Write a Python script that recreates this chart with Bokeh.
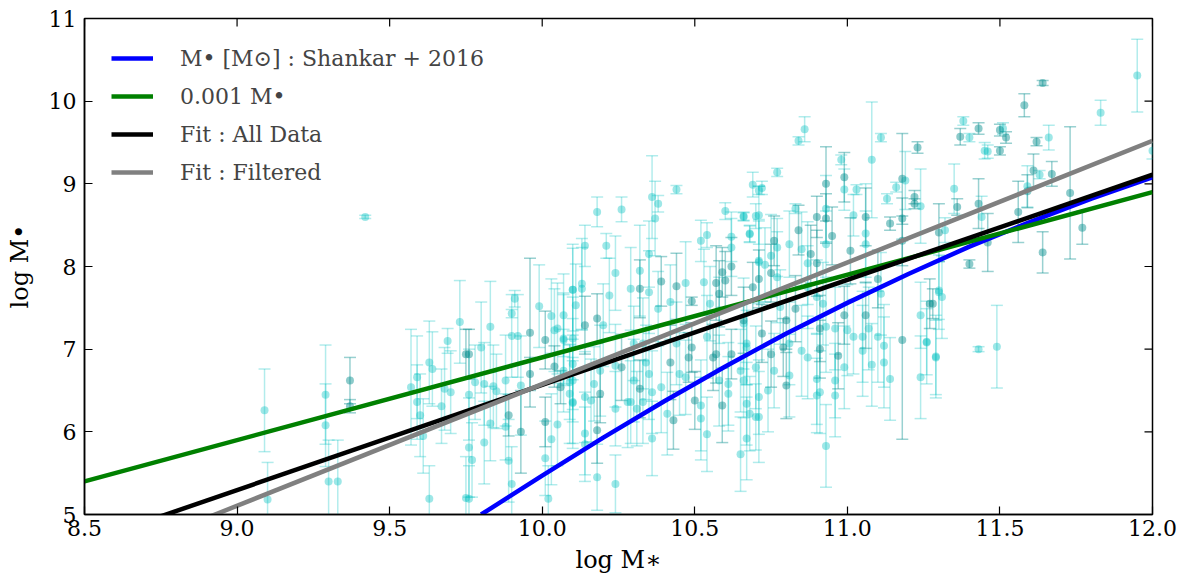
from bokeh.plotting import figure
from bokeh.models import (ColumnDataSource, Whisker, TeeHead, Legend, LegendItem,
                          Range1d, FixedTicker, CustomJSTickFormatter)
from bokeh.embed import file_html
from bokeh.resources import INLINE

# ---------------- data ----------------
x_ticks = [8.5, 9.0, 9.5, 10.0, 10.5, 11.0, 11.5, 12.0]
x_tick_labels = ["8.5", "9.0", "9.5", "10.0", "10.5", "11.0", "11.5", "12.0"]
y_ticks = [5, 6, 7, 8, 9, 10, 11]
y_tick_labels = ["5", "6", "7", "8", "9", "10", "11"]

# light-cyan measurements: log M*, log M_BH, error
light_pts = [
    (9.09, 6.26, 0.50), (9.10, 5.18, 0.45), (9.29, 6.45, 0.60), (9.29, 6.08, 0.50),
    (9.30, 5.40, 0.50), (9.33, 5.40, 0.50), (9.42, 8.60, 0.02),
    (9.57, 6.54, 0.70), (9.59, 6.66, 0.50), (9.59, 6.36, 0.45), (9.60, 6.20, 0.50),
    (9.61, 5.95, 0.45), (9.63, 6.84, 0.50), (9.64, 6.76, 0.45), (9.63, 5.19, 0.40),
    (9.67, 6.31, 0.45), (9.68, 6.52, 0.50), (9.69, 7.10, 0.15), (9.70, 6.48, 0.50),
    (9.73, 7.33, 0.50), (9.76, 6.45, 0.55), (9.76, 5.81, 0.60), (9.77, 5.66, 0.45),
    (9.76, 5.19, 0.40), (9.78, 6.60, 0.45), (9.80, 7.02, 0.55), (9.81, 6.58, 0.50),
    (9.81, 5.87, 0.50), (9.83, 6.10, 0.45), (9.83, 7.27, 0.55), (9.84, 6.55, 0.50),
    (9.85, 6.49, 0.45), (9.88, 6.62, 0.55), (9.88, 6.06, 0.40), (9.89, 5.65, 0.50),
    (9.90, 5.37, 0.45), (9.90, 7.16, 0.50), (9.91, 7.61, 0.10), (9.90, 7.43, 0.05),
    (9.92, 7.16, 0.50), (9.93, 6.56, 0.60), (9.99, 7.52, 0.50), (10.01, 5.68, 0.45),
    (10.02, 5.19, 0.40), (10.03, 5.91, 0.55), (10.03, 7.40, 0.45), (10.04, 7.23, 0.50),
    (10.05, 7.25, 0.55), (10.05, 6.09, 0.50), (10.07, 7.41, 0.50), (10.07, 7.11, 0.55),
    (10.10, 7.72, 0.55), (10.11, 7.53, 0.50), (10.09, 6.46, 0.60), (10.10, 6.35, 0.55),
    (10.10, 6.62, 0.50), (9.75, 5.20, 0.50),
    (10.18, 8.66, 0.18), (10.26, 8.69, 0.15), (10.44, 8.93, 0.05), (10.36, 8.84, 0.50),
    (10.37, 8.58, 0.45), (10.38, 8.76, 0.10), (10.35, 8.15, 0.40), (10.14, 8.25, 0.25),
    (10.21, 8.25, 0.15), (10.13, 7.79, 0.55), (10.13, 7.73, 0.50), (10.10, 7.72, 0.50),
    (10.20, 7.29, 0.50), (10.22, 7.65, 0.45), (10.24, 7.92, 0.45), (10.29, 7.73, 0.50),
    (10.32, 7.95, 0.55), (10.35, 7.69, 0.50), (10.38, 7.49, 0.45), (10.47, 7.80, 0.50),
    (10.42, 7.57, 0.45), (10.54, 8.38, 0.15), (10.52, 8.31, 0.25), (10.60, 8.67, 0.10),
    (10.66, 8.61, 0.05), (10.68, 8.39, 0.10), (10.69, 8.99, 0.15), (10.71, 8.62, 0.35),
    (10.62, 8.36, 0.30), (10.62, 8.23, 0.35), (10.53, 7.81, 0.40), (10.55, 7.55, 0.45),
    (10.58, 7.47, 0.40), (10.71, 8.07, 0.50), (10.07, 7.13, 0.55), (10.10, 7.13, 0.50),
    (10.10, 6.82, 0.55), (10.07, 6.74, 0.50), (10.09, 6.60, 0.45), (10.10, 6.36, 0.50),
    (10.14, 6.42, 0.55), (10.16, 6.38, 0.50), (10.17, 6.58, 0.45), (10.19, 6.74, 0.55),
    (10.14, 5.98, 0.50), (10.14, 5.85, 0.45), (10.18, 5.45, 0.40), (10.24, 5.37, 0.35),
    (10.24, 6.80, 0.50), (10.24, 6.28, 0.45), (10.28, 6.36, 0.55), (10.29, 6.36, 0.50),
    (10.30, 6.62, 0.50), (10.30, 7.07, 0.45), (10.31, 6.28, 0.45), (10.33, 7.07, 0.55),
    (10.33, 6.36, 0.50), (10.34, 6.84, 0.45), (10.35, 6.70, 0.55), (10.36, 6.48, 0.50),
    (10.36, 5.92, 0.45), (10.39, 6.54, 0.55), (10.41, 6.22, 0.50), (10.44, 7.07, 0.50),
    (10.45, 6.70, 0.50), (10.47, 6.66, 0.45), (10.52, 6.32, 0.55), (10.52, 6.16, 0.50),
    (10.54, 5.97, 0.45), (10.54, 7.15, 0.50), (10.58, 6.62, 0.55), (10.61, 6.58, 0.50),
    (10.61, 6.46, 0.45), (10.65, 6.74, 0.50), (10.66, 6.62, 0.45), (10.66, 7.31, 0.55),
    (10.67, 7.07, 0.50), (10.65, 5.73, 0.45), (10.67, 5.92, 0.50), (10.68, 6.22, 0.45),
    (10.70, 6.18, 0.40),
    (10.86, 9.66, 0.15), (10.84, 9.52, 0.05), (10.77, 9.14, 0.05), (10.72, 8.95, 0.08),
    (10.71, 8.92, 0.05), (10.66, 8.60, 0.05), (10.70, 8.61, 0.15), (10.68, 8.40, 0.10),
    (10.83, 8.70, 0.06), (10.98, 9.29, 0.06), (10.99, 8.93, 0.25), (11.03, 8.93, 0.06),
    (11.08, 9.29, 0.70), (11.11, 9.56, 0.05), (11.19, 9.04, 0.35), (11.16, 8.96, 0.06),
    (11.13, 8.82, 0.06), (11.24, 8.73, 0.45), (10.93, 8.70, 0.40), (11.02, 8.62, 0.25),
    (11.06, 8.40, 0.60), (10.93, 8.27, 0.40), (11.06, 8.27, 0.40), (10.77, 8.23, 0.35),
    (10.81, 8.27, 0.40), (10.85, 8.21, 0.45), (10.87, 8.04, 0.50), (10.75, 8.13, 0.50),
    (10.71, 8.05, 0.50), (10.73, 8.02, 0.45), (10.77, 7.87, 0.55), (10.87, 7.75, 0.50),
    (10.90, 7.63, 0.45), (10.92, 7.55, 0.50), (10.78, 7.51, 0.45), (10.67, 7.02, 0.45),
    (10.81, 7.07, 0.50), (10.85, 6.98, 0.55), (10.87, 6.90, 0.50), (10.93, 7.27, 0.55),
    (10.96, 7.25, 0.50), (11.00, 7.23, 0.55), (10.99, 6.78, 0.50), (11.02, 7.15, 0.45),
    (11.05, 7.15, 0.55), (11.07, 7.25, 0.50), (11.05, 6.98, 0.55), (11.08, 6.81, 0.50),
    (11.11, 7.67, 0.50), (11.10, 7.15, 0.55), (11.12, 7.04, 0.50), (11.12, 6.84, 0.55),
    (11.14, 6.64, 0.50), (10.70, 6.78, 0.50), (10.71, 6.42, 0.45), (10.71, 6.18, 0.55),
    (10.67, 6.34, 0.50), (10.74, 6.50, 0.50), (10.76, 6.74, 0.45), (10.81, 6.68, 0.50),
    (10.90, 6.64, 0.55), (10.91, 6.48, 0.50), (10.90, 6.44, 0.45), (10.96, 6.44, 0.50),
    (10.96, 6.62, 0.45), (10.93, 5.83, 0.50), (11.24, 7.41, 0.40), (11.24, 6.66, 0.50),
    (11.26, 7.09, 0.40), (11.29, 6.90, 0.45), (11.30, 7.71, 0.35),
    (11.95, 10.31, 0.44), (11.83, 9.86, 0.15), (11.38, 9.76, 0.05), (11.40, 9.56, 0.05),
    (11.51, 9.67, 0.07), (11.45, 9.40, 0.10), (11.46, 9.39, 0.08), (11.66, 9.56, 0.15),
    (11.35, 8.94, 0.30), (11.44, 8.60, 0.25), (11.32, 8.44, 0.15), (11.59, 8.97, 0.25),
    (11.63, 9.11, 0.05), (11.30, 7.69, 0.45), (11.31, 7.63, 0.50), (11.26, 7.08, 0.50),
    (11.29, 6.91, 0.50), (11.43, 7.00, 0.03), (11.49, 7.03, 0.50), (12.00, 9.40, 0.10),
]

# darker teal measurements
dark_pts = [
    (9.37, 6.62, 0.28), (9.37, 6.31, 0.08), (9.75, 6.94, 0.30), (9.76, 6.94, 0.30),
    (9.89, 6.20, 0.25), (9.93, 6.00, 0.50), (9.96, 7.20, 0.90), (9.96, 6.70, 0.20),
    (10.01, 7.11, 0.35), (10.01, 6.12, 0.30), (10.04, 6.79, 0.25), (10.06, 6.54, 0.20),
    (10.14, 7.29, 0.35), (10.18, 7.37, 0.30), (10.32, 7.73, 0.35), (10.39, 7.82, 0.30),
    (10.44, 7.76, 0.40), (10.49, 7.58, 0.05), (10.62, 8.00, 0.35), (10.59, 7.93, 0.30),
    (10.57, 7.80, 0.45), (10.58, 7.67, 0.40), (10.60, 7.83, 0.35), (10.69, 7.75, 0.30),
    (10.19, 6.46, 0.35), (10.18, 6.02, 0.40), (10.26, 6.78, 0.40), (10.32, 6.52, 0.35),
    (10.42, 6.84, 0.45), (10.43, 6.14, 0.35), (10.48, 6.90, 0.30), (10.49, 7.02, 0.30),
    (10.50, 6.38, 0.35), (10.56, 6.90, 0.40), (10.57, 6.94, 0.35), (10.59, 6.32, 0.45),
    (10.62, 6.94, 0.30), (10.99, 9.08, 0.30), (11.23, 9.44, 0.07), (11.18, 9.06, 0.55),
    (11.22, 8.84, 0.08), (11.22, 8.76, 0.06), (10.93, 9.00, 0.45), (10.93, 8.58, 0.30),
    (10.90, 8.60, 0.25), (10.84, 8.44, 0.30), (11.06, 8.60, 0.35), (11.14, 8.52, 0.08),
    (11.18, 8.58, 0.25), (11.18, 8.31, 0.30), (11.18, 7.11, 1.20), (10.95, 8.37, 0.35),
    (11.01, 8.19, 0.40), (10.76, 8.31, 0.30), (10.88, 8.15, 0.35), (10.90, 8.04, 0.40),
    (10.75, 7.92, 0.35), (10.71, 7.85, 0.35), (10.83, 7.49, 0.40), (10.80, 7.35, 0.35),
    (10.66, 7.35, 0.40), (10.72, 7.19, 0.35), (10.75, 6.94, 0.40), (10.79, 7.02, 0.35),
    (10.91, 7.25, 0.40), (10.91, 7.00, 0.35), (10.97, 6.92, 0.40), (10.99, 7.41, 0.35),
    (11.06, 7.41, 0.40), (11.10, 7.85, 0.35), (10.80, 6.56, 0.40), (11.27, 7.55, 0.30),
    (11.64, 10.22, 0.03), (11.58, 9.95, 0.14), (11.37, 9.57, 0.10), (11.43, 9.67, 0.07),
    (11.50, 9.65, 0.07), (11.52, 9.56, 0.07), (11.50, 9.40, 0.05), (11.62, 9.51, 0.05),
    (11.36, 8.72, 0.10), (11.43, 8.76, 0.30), (11.46, 8.29, 0.35), (11.40, 8.03, 0.05),
    (11.30, 8.41, 0.35), (11.56, 8.66, 0.37), (11.59, 8.91, 0.20), (11.61, 9.16, 0.20),
    (11.67, 9.12, 0.15), (11.73, 8.89, 0.80), (11.77, 8.47, 0.20), (11.64, 8.17, 0.25),
    (11.28, 7.55, 0.18),
]

# relations
shankar_x = [9.80, 10.00, 10.20, 10.40, 10.60, 10.80, 11.00, 11.20, 11.40, 11.60, 11.80, 12.00]
shankar_y = [5.00, 5.47, 5.93, 6.37, 6.79, 7.19, 7.56, 7.91, 8.24, 8.54, 8.82, 9.08]
ratio_x = [8.5, 12.0]
ratio_y = [5.40, 8.90]
fit_all_x = [8.5, 12.0]
fit_all_y = [4.66, 9.11]
fit_filt_x = [8.5, 12.0]
fit_filt_y = [4.37, 9.52]

legend_labels = ["M\u2022 [M\u2299] : Shankar + 2016", "0.001 M\u2022",
                 "Fit : All Data", "Fit : Filtered"]

FONT = "DejaVu Serif"


def make_source(pts):
    xs = [p[0] for p in pts]
    ys = [p[1] for p in pts]
    es = [p[2] for p in pts]
    return ColumnDataSource(dict(x=xs, y=ys,
                                 lo=[y - e for y, e in zip(ys, es)],
                                 hi=[y + e for y, e in zip(ys, es)]))


def label_formatter(tick_values, tick_texts):
    return CustomJSTickFormatter(args=dict(tvals=tick_values, ttexts=tick_texts), code="""
        for (let i = 0; i < tvals.length; i++) {
            if (Math.abs(tvals[i] - tick) < 1e-6) { return ttexts[i]; }
        }
        return String(tick);
    """)


p = figure(frame_width=1068, frame_height=496,
           x_range=Range1d(8.5, 12.0), y_range=Range1d(5, 11),
           output_backend="svg", toolbar_location=None,
           min_border_left=84, min_border_right=35, min_border_top=18, min_border_bottom=66)
p.grid.visible = False
p.outline_line_color = "black"
p.outline_line_width = 1.5
p.background_fill_color = "white"
p.border_fill_color = "white"

for pts, col, a_bar, a_pt in [(light_pts, "#00bfbf", 0.3, 0.38), (dark_pts, "#008b8b", 0.4, 0.45)]:
    src = make_source(pts)
    w = Whisker(source=src, base="x", upper="hi", lower="lo", dimension="height",
                line_color=col, line_alpha=a_bar, line_width=1.5,
                upper_head=TeeHead(size=12, line_color=col, line_alpha=a_bar, line_width=1.5),
                lower_head=TeeHead(size=12, line_color=col, line_alpha=a_bar, line_width=1.5))
    p.add_layout(w)
    p.scatter("x", "y", source=src, size=8, fill_color=col, fill_alpha=a_pt, line_color=None)

r_blue = p.line(shankar_x, shankar_y, line_color="#0000ff", line_width=4.5)
r_green = p.line(ratio_x, ratio_y, line_color="#008000", line_width=4.5)
r_black = p.line(fit_all_x, fit_all_y, line_color="black", line_width=4.5)
r_gray = p.line(fit_filt_x, fit_filt_y, line_color="#808080", line_width=4.5)

# inward ticks on the top and right spines (derived from the tick lists)
tick_dy = 8 / 82.67
tick_dx = 8 / 305.1
p.segment(x0=x_ticks, y0=[11] * len(x_ticks), x1=x_ticks, y1=[11 - tick_dy] * len(x_ticks),
          line_color="black", line_width=1.2)
p.segment(x0=[12.0] * len(y_ticks), y0=y_ticks, x1=[12.0 - tick_dx] * len(y_ticks), y1=y_ticks,
          line_color="black", line_width=1.2)

legend = Legend(items=[LegendItem(label=l, renderers=[r]) for l, r in
                       zip(legend_labels, [r_blue, r_green, r_black, r_gray])],
                location="top_left", margin=27, padding=3, spacing=12,
                glyph_width=42, glyph_height=26, label_standoff=27,
                label_text_font=FONT, label_text_font_size="22px",
                border_line_color=None, background_fill_alpha=0)
p.add_layout(legend)

# axes styling
p.xaxis.ticker = FixedTicker(ticks=x_ticks)
p.xaxis.formatter = label_formatter(x_ticks, x_tick_labels)
p.yaxis.ticker = FixedTicker(ticks=y_ticks)
p.yaxis.formatter = label_formatter(y_ticks, y_tick_labels)
for axs in (p.xaxis, p.yaxis):
    axs.major_tick_in = 8
    axs.major_tick_out = 0
    axs.minor_tick_line_color = None
    axs.axis_line_width = 1.5
    axs.major_tick_line_width = 1.2
    axs.major_label_text_font = FONT
    axs.major_label_text_font_size = "22px"
    axs.major_label_text_color = "black"
    axs.axis_label_text_font = FONT
    axs.axis_label_text_font_size = "24px"
    axs.axis_label_text_font_style = "normal"
    axs.axis_label_text_color = "black"
p.xaxis.axis_label = "log M\u2217"
p.yaxis.axis_label = "log M\u2022"
p.xaxis.major_label_standoff = 5
p.yaxis.major_label_standoff = 8
p.xaxis.axis_label_standoff = 7
p.yaxis.axis_label_standoff = 12

open("out.html", "w").write(file_html(p, INLINE))
